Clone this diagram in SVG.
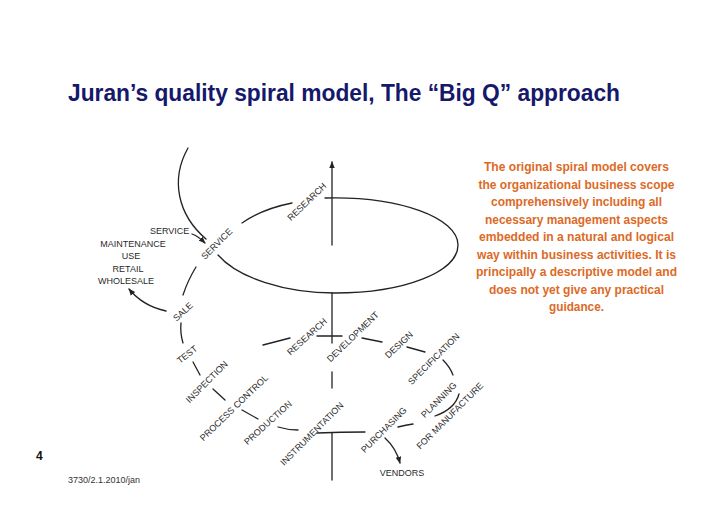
<svg xmlns="http://www.w3.org/2000/svg" width="728" height="514" viewBox="0 0 728 514">
<defs>
<style>
.title{font-family:"Liberation Sans",Arial,sans-serif;font-weight:bold;font-size:23px;fill:#15186b}
.lbl{font-family:"Liberation Sans",Arial,sans-serif;font-size:9px;fill:#2a2a2a}
.note{font-family:"Liberation Sans",Arial,sans-serif;font-weight:bold;font-size:12px;fill:#dc6a26;text-anchor:middle}
.ln{fill:none;stroke:#222;stroke-width:1.3;stroke-linecap:round}
.foot{font-family:"Liberation Sans",Arial,sans-serif;font-size:9px;fill:#333}
</style>
<marker id="ah" viewBox="0 0 10 10" refX="9" refY="5" markerWidth="7" markerHeight="7" orient="auto" markerUnits="userSpaceOnUse">
<path d="M0,1 L10,5 L0,9 Z" fill="#222"/>
</marker>
</defs>
<rect width="728" height="514" fill="#ffffff"/>

<g id="title"><text class="title" x="68" y="101" textLength="552" lengthAdjust="spacingAndGlyphs">Juran’s quality spiral model, The “Big Q” approach</text></g>

<g id="connectors">
<path class="ln" d="M332,245 L332,162" marker-end="url(#ah)"/>
<path class="ln" d="M332,293 L332,343"/>
<path class="ln" d="M332,372 L332,388"/>
<path class="ln" d="M332,433 L332,480"/>
<path class="ln" d="M188,148 C170,180 178,215 206,239"/>
<path class="ln" d="M192,234 Q198,236 205,243" marker-end="url(#ah)"/>
<path class="ln" d="M242,223 Q262,209 292,203"/>
<path class="ln" d="M325,198 C400,196 458,218 458,245 C458,272 404,293 335,293 C285,293 238,278 218,255"/>
<path class="ln" d="M196,267 Q188,280 183,295"/>
<path class="ln" d="M166,311 C152,308 138,300 129,289" marker-end="url(#ah)"/>
<path class="ln" d="M181,323 Q180,333 183,343"/>
<path class="ln" d="M193,362 L200,375"/>
<path class="ln" d="M213,389 L225,400"/>
<path class="ln" d="M242,410 L258,419"/>
<path class="ln" d="M278,427 Q288,430 298,430"/>
<path class="ln" d="M317,433 Q341,432 365,432"/>
<path class="ln" d="M263,345 L290,338"/>
<path class="ln" d="M317,336 L342,336"/>
<path class="ln" d="M362,338 L382,342"/>
<path class="ln" d="M407,347 L425,352"/>
<path class="ln" d="M443,360 Q450,367 453,375"/>
<path class="ln" d="M435,416 Q455,409 459,394"/>
<path class="ln" d="M398,427 Q406,425 413,424"/>
<path class="ln" d="M385,438 Q396,448 400,463" marker-end="url(#ah)"/>
</g>

<g id="service-list">
<text class="lbl" x="150" y="234">SERVICE</text>
<text class="lbl" x="133" y="247" text-anchor="middle">MAINTENANCE</text>
<text class="lbl" x="131" y="259" text-anchor="middle">USE</text>
<text class="lbl" x="128" y="272" text-anchor="middle">RETAIL</text>
<text class="lbl" x="126" y="284" text-anchor="middle">WHOLESALE</text>
</g>
<g id="research-top"><text class="lbl" text-anchor="middle" transform="translate(309,204) rotate(-44)">RESEARCH</text></g>
<g id="service"><text class="lbl" text-anchor="middle" transform="translate(219,246) rotate(-45)">SERVICE</text></g>
<g id="sale"><text class="lbl" text-anchor="middle" transform="translate(185,314) rotate(-42)">SALE</text></g>
<g id="test"><text class="lbl" text-anchor="middle" transform="translate(189,357) rotate(-38)">TEST</text></g>
<g id="inspection"><text class="lbl" text-anchor="middle" transform="translate(209,384) rotate(-45)">INSPECTION</text></g>
<g id="process-control"><text class="lbl" text-anchor="middle" transform="translate(236,410) rotate(-44)">PROCESS CONTROL</text></g>
<g id="production"><text class="lbl" text-anchor="middle" transform="translate(270,425) rotate(-42)">PRODUCTION</text></g>
<g id="instrumentation"><text class="lbl" text-anchor="middle" transform="translate(314,436) rotate(-45)">INSTRUMENTATION</text></g>
<g id="research-low"><text class="lbl" text-anchor="middle" transform="translate(309,339) rotate(-42)">RESEARCH</text></g>
<g id="development"><text class="lbl" text-anchor="middle" transform="translate(355,339) rotate(-44)">DEVELOPMENT</text></g>
<g id="design"><text class="lbl" text-anchor="middle" transform="translate(401,347) rotate(-43)">DESIGN</text></g>
<g id="specification"><text class="lbl" text-anchor="middle" transform="translate(436,361) rotate(-45)">SPECIFICATION</text></g>
<g id="planning"><text class="lbl" text-anchor="middle" transform="translate(441,402) rotate(-45)">PLANNING</text></g>
<g id="for-manufacture"><text class="lbl" text-anchor="middle" transform="translate(452,418) rotate(-45)">FOR MANUFACTURE</text></g>
<g id="purchasing"><text class="lbl" text-anchor="middle" transform="translate(386,432) rotate(-45)">PURCHASING</text></g>
<g id="vendors"><text class="lbl" x="402" y="476" text-anchor="middle">VENDORS</text></g>

<g id="note">
<text class="note" x="576.5" y="171" textLength="185" lengthAdjust="spacingAndGlyphs">The original spiral model covers</text>
<text class="note" x="576.5" y="188.5" textLength="196" lengthAdjust="spacingAndGlyphs">the organizational business scope</text>
<text class="note" x="576.5" y="206" textLength="171" lengthAdjust="spacingAndGlyphs">comprehensively including all</text>
<text class="note" x="576.5" y="223.5" textLength="183" lengthAdjust="spacingAndGlyphs">necessary management aspects</text>
<text class="note" x="576.5" y="241" textLength="195" lengthAdjust="spacingAndGlyphs">embedded in a natural and logical</text>
<text class="note" x="576.5" y="258.5" textLength="199" lengthAdjust="spacingAndGlyphs">way within business activities. It is</text>
<text class="note" x="576.5" y="276" textLength="201" lengthAdjust="spacingAndGlyphs">principally a descriptive model and</text>
<text class="note" x="576.5" y="293.5" textLength="175" lengthAdjust="spacingAndGlyphs">does not yet give any practical</text>
<text class="note" x="576.5" y="311" textLength="55" lengthAdjust="spacingAndGlyphs">guidance.</text>
</g>

<g id="footer">
<text x="36" y="460" style="font-family:'Liberation Sans',Arial,sans-serif;font-weight:bold;font-size:12px;fill:#111">4</text>
<text class="foot" x="68" y="483">3730/2.1.2010/jan</text>
</g>
</svg>
